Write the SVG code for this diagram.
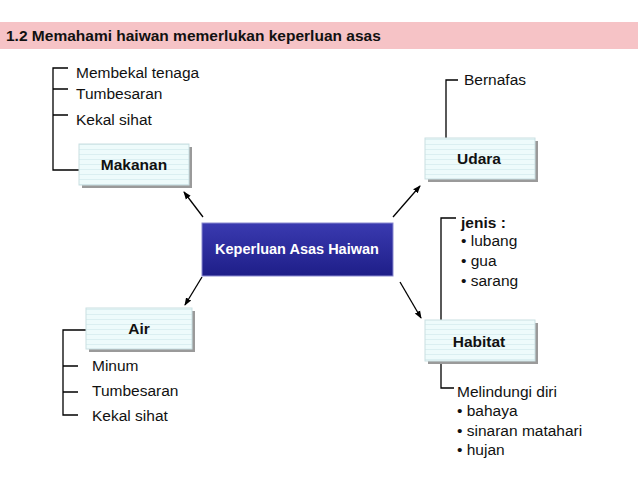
<svg xmlns="http://www.w3.org/2000/svg" width="638" height="479" viewBox="0 0 638 479">
<defs>
<pattern id="ln" width="8" height="5" patternUnits="userSpaceOnUse"><rect width="8" height="5" fill="#eefbfb"/><line x1="0" y1="4.5" x2="8" y2="4.5" stroke="#d3e9ec" stroke-width="0.7"/></pattern>
<linearGradient id="blu" x1="0" y1="0" x2="0" y2="1"><stop offset="0" stop-color="#3a3ab0"/><stop offset="1" stop-color="#1e1e88"/></linearGradient>
<marker id="ah" markerWidth="8" markerHeight="8" refX="7" refY="4" orient="auto" markerUnits="userSpaceOnUse"><path d="M0,1 L8,4 L0,7 Z" fill="#000"/></marker>
</defs>
<style>
text{font-family:"Liberation Sans",Arial,sans-serif;font-size:15.5px;fill:#111}
.b{font-weight:bold}
.box{fill:url(#ln);stroke:#c9dfe2;stroke-width:1}
.sh{fill:#9a9a9a}
.l{stroke:#000;stroke-width:1.3;fill:none}
</style>
<rect width="638" height="479" fill="#fff"/>
<rect x="0" y="22" width="638" height="27" fill="#f6c3c6"/>
<text x="6" y="41" class="b">1.2  Memahami haiwan memerlukan keperluan asas</text>
<g id="connectors" class="l">
<path d="M68,68 H53 V170 H79 M53,89 H68 M53,115 H68"/>
<path d="M446,138 V80 H458"/>
<path d="M441,320 V218 H456"/>
<path d="M441,364 V388 H454"/>
<path d="M86,330 H63 V415 H78 M63,366 H78 M63,392 H78"/>
<line x1="203" y1="217" x2="184" y2="192" marker-end="url(#ah)"/>
<line x1="393" y1="217" x2="420" y2="186" marker-end="url(#ah)"/>
<line x1="202" y1="277" x2="185" y2="305" marker-end="url(#ah)"/>
<line x1="400" y1="282" x2="421" y2="318" marker-end="url(#ah)"/>
</g>
<g id="makanan"><rect class="sh" x="82" y="147" width="110" height="41"/><rect class="box" x="79" y="144" width="110" height="41"/><text x="134" y="170" class="b" text-anchor="middle">Makanan</text></g>
<g id="makanan-notes"><text x="76" y="78">Membekal tenaga</text><text x="76" y="99">Tumbesaran</text><text x="76" y="125">Kekal sihat</text></g>
<g id="udara"><rect class="sh" x="428" y="141" width="110" height="41"/><rect class="box" x="425" y="138" width="110" height="41"/><text x="479" y="164" class="b" text-anchor="middle">Udara</text></g>
<g id="udara-notes"><text x="464" y="85">Bernafas</text></g>
<g id="center"><rect x="202" y="223" width="191" height="53" fill="url(#blu)" stroke="#8a8ad0" stroke-width="1"/><text x="297" y="254" class="b" text-anchor="middle" style="fill:#fff;font-size:14.5px">Keperluan Asas Haiwan</text></g>
<g id="habitat-types"><text x="461" y="228" class="b">jenis :</text><text x="461" y="246">• lubang</text><text x="461" y="266">• gua</text><text x="461" y="286">• sarang</text></g>
<g id="habitat"><rect class="sh" x="428" y="323" width="110" height="41"/><rect class="box" x="425" y="320" width="110" height="41"/><text x="479" y="347" class="b" text-anchor="middle">Habitat</text></g>
<g id="habitat-notes"><text x="457" y="397">Melindungi diri</text><text x="457" y="416">• bahaya</text><text x="457" y="436">• sinaran matahari</text><text x="457" y="455">• hujan</text></g>
<g id="air"><rect class="sh" x="89" y="311" width="106" height="41"/><rect class="box" x="86" y="308" width="106" height="41"/><text x="139" y="334" class="b" text-anchor="middle">Air</text></g>
<g id="air-notes"><text x="92" y="371">Minum</text><text x="92" y="396">Tumbesaran</text><text x="92" y="421">Kekal sihat</text></g>
</svg>
